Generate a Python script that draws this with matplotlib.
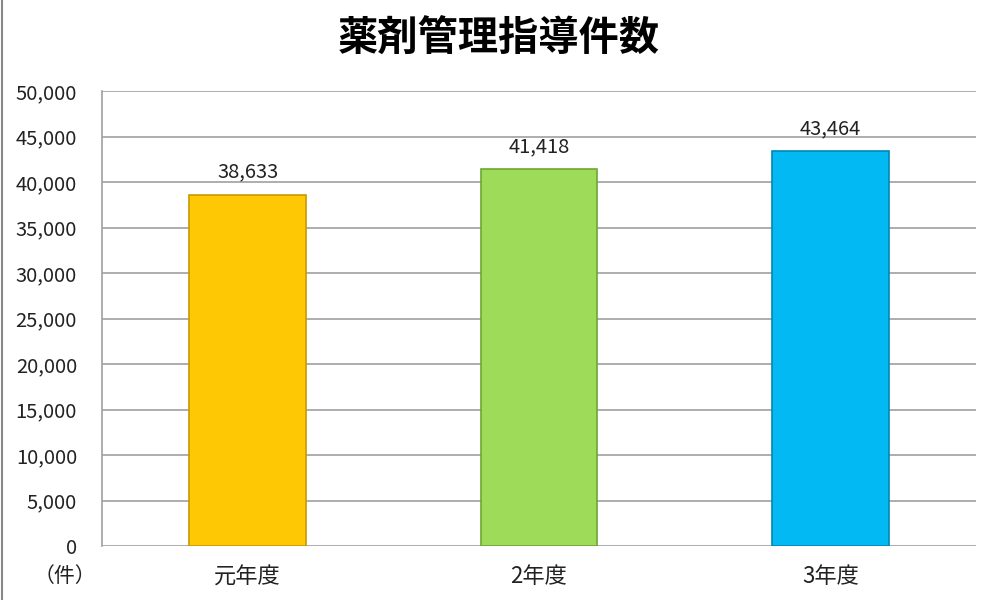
import matplotlib.pyplot as plt
from matplotlib.lines import Line2D
from matplotlib.ticker import FuncFormatter

plt.rcParams['font.family'] = ['Noto Sans CJK JP', 'DejaVu Sans']

# data
categories = ["元年度", "2年度", "3年度"]
values = [38633, 41418, 43464]
colors = ["#FFC805", "#9DDB58", "#02B9F3"]
edges = ["#C89A00", "#6FA632", "#0086B8"]

fig = plt.figure(figsize=(10, 6), dpi=100)
ax = fig.add_axes([0.102, 0.09, 0.874, 0.758])

x = range(len(categories))
bars = ax.bar(x, values, width=0.4, color=colors, edgecolor=edges, linewidth=1.2, zorder=3)

for xi, v in zip(x, values):
    ax.text(xi, v + 1300, f"{v:,}", ha='center', va='bottom', fontsize=14.5, color='#222222')

ax.set_xlim(-0.5, 2.5)
ax.set_ylim(0, 50000)
ax.set_yticks(range(0, 50001, 5000))
ax.yaxis.set_major_formatter(FuncFormatter(lambda v, p: f"{int(v):,}"))
ax.set_xticks(list(x))
ax.set_xticklabels(categories)
ax.tick_params(axis='both', length=0, colors='#222222')
ax.tick_params(axis='y', pad=18, labelsize=14.5)
ax.tick_params(axis='x', pad=14, labelsize=16)

ax.grid(axis='y', color='#A0A0A0', linewidth=1.2, zorder=0)
for s in ['top', 'right', 'bottom']:
    ax.spines[s].set_visible(False)
ax.spines['left'].set_color('#A0A0A0')
ax.spines['left'].set_linewidth(1.2)

fig.text(0.499, 0.935, "薬剤管理指導件数", ha='center', va='center',
         fontsize=29, fontweight='bold')
fig.text(0.065, 0.04, "（件）", ha='center', va='center', fontsize=15, color='#222222')

# outer frame line on the left edge
fig.add_artist(Line2D([0.002, 0.002], [0, 1], transform=fig.transFigure,
                      color='#888888', linewidth=1.5))

fig.savefig("out.png", dpi=100)
